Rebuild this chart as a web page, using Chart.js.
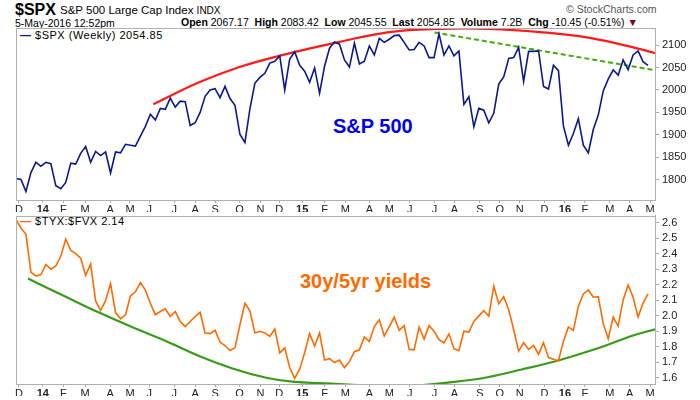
<!DOCTYPE html>
<html>
<head>
<meta charset="utf-8">
<script src="https://cdn.jsdelivr.net/npm/chart.js@4"></script>
<style>
  body { margin: 0; width: 700px; height: 400px; background: #fff; font-family: "Liberation Sans", Arial, sans-serif; position: relative; overflow: hidden; }
  .t { position: absolute; white-space: nowrap; color: #000; }
  canvas { position: absolute; left: 0; }
</style>
</head>
<body>
<div class="t" style="left:15px;top:1px;font-size:16px;font-weight:bold">$SPX</div>
<div class="t" style="left:60px;top:4px;font-size:11.5px">S&amp;P 500 Large Cap Index <span style="font-size:10px">INDX</span></div>
<div class="t" style="left:15px;top:17px;font-size:10.5px">5-May-2016 12:52pm</div>
<div class="t" style="left:181px;top:16px;font-size:10.5px"><b>Open</b> 2067.17 &nbsp;<b>High</b> 2083.42 &nbsp;<b>Low</b> 2045.55 &nbsp;<b>Last</b> 2054.85 &nbsp;<b>Volume</b> 7.2B &nbsp;<b>Chg</b> -10.45 (-0.51%) <span style="color:#800020">&#9660;</span></div>
<div class="t" style="left:566px;top:3px;font-size:10.5px;color:#555">&#169; StockCharts.com</div>
<div class="t" style="left:20px;top:29px;font-size:11px;letter-spacing:0.5px"><span style="color:#0a1a8c;font-weight:bold">&#8212;</span> $SPX (Weekly) 2054.85</div>
<div class="t" style="left:20px;top:215px;font-size:11px;letter-spacing:0.5px"><span style="color:#ff6a00;font-weight:bold">&#8212;</span> $TYX:$FVX 2.14</div>
<div class="t" style="left:333px;top:115px;font-size:20px;font-weight:bold;color:#0000ee">S&amp;P 500</div>
<div class="t" style="left:300px;top:270px;font-size:20px;font-weight:bold;color:#ff6a00">30y/5yr yields</div>
<canvas id="topChart" width="700" height="212" style="top:0"></canvas>
<canvas id="botChart" width="700" height="194" style="top:206px"></canvas>
<script>
const spxWeekly = [1803,1801,1774,1816,1839,1830,1839,1836,1787,1780,
  1794,1837,1835,1859,1874,1839,1863,1854,1862,1815,
  1862,1860,1879,1877,1875,1897,1919,1946,1933,1959,
  1957,1982,1962,1975,1974,1921,1927,1950,1986,2000,
  2003,1983,2008,1981,1966,1901,1883,1958,2015,2028,
  2037,2060,2064,2076,2000,2069,2085,2055,2042,2017,
  2049,1993,2053,2093,2107,2102,2067,2051,
  2104,2058,2064,2098,2078,2115,2106,2113,2121,2122,
  2106,2089,2090,2106,2098,2072,2072,2125,2078,2098,
  2076,2087,1968,1985,1918,1959,1955,1927,1948,2013,
  2029,2070,2072,2095,2019,2086,2086,2087,2008,2002,
  2055,2043,1920,1877,1903,1936,1877,1860,1912,1944,
  1998,2024,2045,2033,2067,2045,2078,2087,2063,2055];

const yieldRatio = [2.62,2.564,2.526,2.28,2.256,2.264,2.33,2.30,2.32,2.383,2.494,
  2.42,2.40,2.37,2.26,2.334,2.095,2.033,2.097,2.207,2.02,
  1.98,2.006,2.127,2.154,2.213,2.165,2.08,2.006,2.027,2.044,
  1.995,2.027,1.963,1.93,1.963,1.995,2.022,1.889,1.885,1.906,
  1.83,1.808,1.776,1.793,1.942,2.08,2.031,1.889,1.9,1.889,
  1.867,1.914,1.761,1.793,1.666,1.596,1.655,1.761,1.885,1.804,
  1.889,1.715,1.723,1.698,1.715,1.666,1.704,
  1.768,1.78,1.863,1.834,1.93,1.974,1.87,1.93,1.99,1.906,
  1.936,1.783,1.78,1.927,1.85,1.936,1.9,1.846,1.825,1.883,
  1.787,1.774,1.9,1.895,1.963,1.999,2.032,1.996,2.191,2.077,
  2.123,2.038,1.911,1.772,1.826,1.783,1.809,1.751,1.826,1.73,
  1.719,1.708,1.836,1.928,1.906,2.06,2.14,2.166,2.119,2.123,
  1.949,1.851,1.991,1.932,2.102,2.198,2.119,1.991,2.081,2.14];

// trend lines, read as [week, value]
const spxArcX = [27.6,36.8,44.9,52.9,65,75,85.1,95.2,105.2,115.3,125.4,128.4];
const spxArcY = [1968,2017,2051,2076,2107,2129,2136,2136,2129,2116,2091,2082];
const spxDashX = [84.1,128.4];
const spxDashY = [2128,2044];
const ratioArcX = [2.4,10,16.7,23.3,30.2,36.8,43.5,50.3,55.5,63.6,72.4,79.7,87.1,94.5,101.8,109.3,116.6,124,128.4];
const ratioArcY = [2.239,2.122,2.02,1.927,1.836,1.74,1.66,1.60,1.575,1.562,1.548,1.549,1.57,1.602,1.655,1.715,1.787,1.872,1.912];

const monthPos = [0.6,5.4,9.5,13.9,18.9,22.9,26.8,31.8,36.0,40.0,44.9,49.1,52.9,57.5,62.0,66.2,71.0,75.0,79.1,84.1,88.1,93.2,97.2,101.2,106.2,110.3,114.3,119.3,123.3,127.4];
const monthLbl = ['D','14','F','M','A','M','J','J','A','S','O','N','D','15','F','M','A','M','J','J','A','S','O','N','D','16','F','M','A','M'];
const spxTicks = [1800,1850,1900,1950,2000,2050,2100];
const ratioTicks = [1.6,1.7,1.8,1.9,2.0,2.1,2.2,2.3,2.4,2.5,2.6];

const pts = (xs, ys) => ys.map((y, i) => ({ x: xs ? xs[i] : i, y }));
const tickFont = { family: "Liberation Sans", size: 11 };

// grey box round each plot area
const boxPlugin = {
  id: 'box',
  afterDraw(chart) {
    const { ctx, chartArea: a } = chart;
    ctx.save();
    ctx.strokeStyle = '#b0b0b0';
    ctx.lineWidth = 1;
    ctx.strokeRect(Math.round(a.left) + 0.5, Math.round(a.top) + 0.5, Math.round(a.right - a.left), Math.round(a.bottom - a.top));
    ctx.restore();
  }
};

function xScale() {
  return {
    type: 'linear', min: 0, max: 128.4,
    afterBuildTicks: s => { s.ticks = monthPos.map(v => ({ value: v })); },
    afterFit: s => { s.height = 12; },
    ticks: {
      autoSkip: false, maxRotation: 0, padding: 0, color: '#222',
      callback: (v, i) => monthLbl[i],
      font: c => ({ family: "Liberation Sans", size: 11, weight: /\d/.test(monthLbl[c.index]) ? 'bold' : 'normal' })
    },
    grid: { drawOnChartArea: false, tickLength: 3, color: '#aaa' },
    border: { color: '#aaa' }
  };
}
function yScale(min, max, ticks, fmt) {
  return {
    position: 'right', min, max,
    afterBuildTicks: s => { s.ticks = ticks.map(v => ({ value: v })); },
    afterFit: s => { s.width = 45; },
    ticks: { color: '#222', font: tickFont, padding: 3, callback: fmt },
    grid: { drawOnChartArea: false, tickLength: 4, color: '#aaa' },
    border: { color: '#aaa' }
  };
}
function line(data, color, width, extra) {
  return Object.assign({ data, borderColor: color, borderWidth: width, pointRadius: 0, fill: false, tension: 0 }, extra || {});
}

new Chart(document.getElementById('topChart'), {
  type: 'line',
  data: { datasets: [
    line(pts(null, spxWeekly), '#0a1a8c', 1.6),
    line(pts(spxArcX, spxArcY), '#ff1a1a', 2.2, { tension: 0.4 }),
    line(pts(spxDashX, spxDashY), '#44aa11', 2, { borderDash: [5, 3] })
  ]},
  options: {
    responsive: false, animation: false,
    layout: { padding: { left: 16, top: 28, right: 0, bottom: 0 } },
    plugins: { legend: { display: false }, tooltip: { enabled: false } },
    scales: { x: xScale(), y: yScale(1755, 2138, spxTicks, v => v) }
  },
  plugins: [boxPlugin]
});

new Chart(document.getElementById('botChart'), {
  type: 'line',
  data: { datasets: [
    line(pts(null, yieldRatio), '#ff6a00', 1.6),
    line(pts(ratioArcX, ratioArcY), '#3a9a1a', 2.2, { tension: 0.4 })
  ]},
  options: {
    responsive: false, animation: false,
    layout: { padding: { left: 16, top: 1, right: 0, bottom: 4 } },
    plugins: { legend: { display: false }, tooltip: { enabled: false } },
    scales: { x: xScale(), y: yScale(1.56, 2.645, ratioTicks, v => v.toFixed(1)) }
  },
  plugins: [boxPlugin]
});
</script>
</body>
</html>
